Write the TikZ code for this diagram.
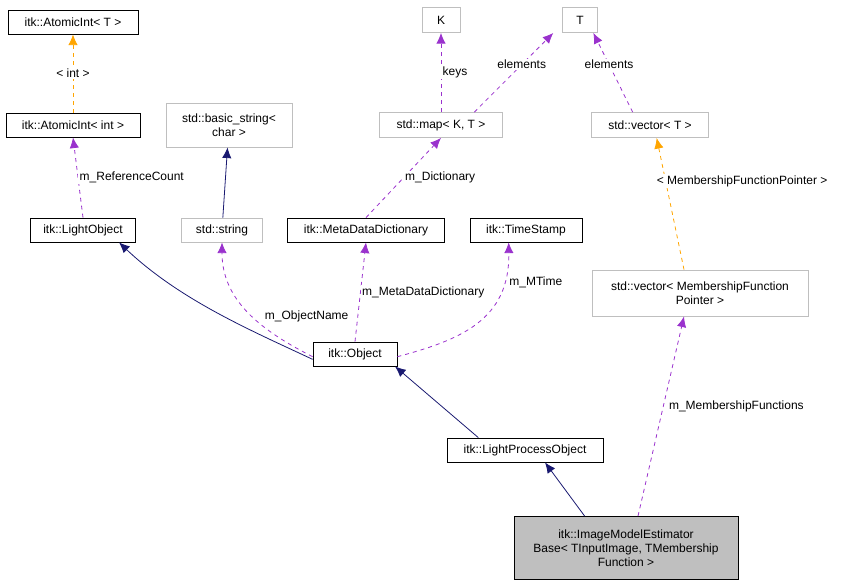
\documentclass[tikz,border=0pt]{standalone}
\usepackage{fontspec}
\setmainfont{Liberation Sans}
\usetikzlibrary{arrows.meta}
\begin{document}
\begin{tikzpicture}[x=0.75pt,y=-0.75pt,
 box/.style={draw=black,fill=white,line width=0.6pt,inner sep=0pt,font=\fontsize{9}{10.5}\selectfont,align=center},
 gbox/.style={box,draw=black!25},
 lbl/.style={font=\fontsize{9}{10.5}\selectfont,fill=white,inner sep=1pt},
 inh/.style={draw={rgb,255:red,25;green,25;blue,112},line width=0.6pt,-{Latex[length=8pt,width=7pt]}},
 use/.style={draw={rgb,255:red,154;green,50;blue,205},dashed,line width=0.6pt,-{Latex[length=8pt,width=7pt]}},
 tpl/.style={draw={rgb,255:red,255;green,165;blue,0},dashed,line width=0.6pt,-{Latex[length=8pt,width=7pt]}}]
\useasboundingbox (0,0) rectangle (865,587);
\node[box,minimum width=130*0.75pt,minimum height=24*0.75pt] (aT) at (73,22) {itk::AtomicInt< T >};
\node[box,minimum width=134*0.75pt,minimum height=24*0.75pt] (aI) at (73,125) {itk::AtomicInt< int >};
\node[box,minimum width=105*0.75pt,minimum height=24*0.75pt] (lo) at (83,230) {itk::LightObject};
\node[gbox,minimum width=126*0.75pt,minimum height=44*0.75pt] (bs) at (229,125) {std::basic\_string<\\char >};
\node[gbox,minimum width=81*0.75pt,minimum height=24*0.75pt] (ss) at (222,230) {std::string};
\node[box,minimum width=157*0.75pt,minimum height=24*0.75pt] (md) at (366,230) {itk::MetaDataDictionary};
\node[box,minimum width=112*0.75pt,minimum height=24*0.75pt] (ts) at (526,230) {itk::TimeStamp};
\node[gbox,minimum width=38*0.75pt,minimum height=25*0.75pt] (K) at (441,20) {K};
\node[gbox,minimum width=35*0.75pt,minimum height=25*0.75pt] (T) at (580,20) {T};
\node[gbox,minimum width=123*0.75pt,minimum height=25*0.75pt] (map) at (441,125) {std::map< K, T >};
\node[gbox,minimum width=117*0.75pt,minimum height=25*0.75pt] (vT) at (650,125) {std::vector< T >};
\node[gbox,minimum width=216*0.75pt,minimum height=46*0.75pt] (vM) at (700,293) {std::vector< MembershipFunction\\Pointer >};
\node[box,minimum width=84*0.75pt,minimum height=24*0.75pt] (ob) at (355,354) {itk::Object};
\node[box,minimum width=156*0.75pt,minimum height=24*0.75pt] (lp) at (525,450) {itk::LightProcessObject};
\node[box,fill={rgb,255:red,191;green,191;blue,191},minimum width=224*0.75pt,minimum height=63*0.75pt] (im) at (626,548) {itk::ImageModelEstimator\\Base< TInputImage, TMembership\\Function >};

\draw[tpl] (aI) -- node[lbl]{< int >} (aT);
\draw[use] (lo.north) -- node[lbl,right,pos=0.5]{m\_ReferenceCount} (aI.south);
\draw[inh] (ss) -- (bs);
\draw[use] (md.north) -- node[lbl,right]{m\_Dictionary} (map.south);
\draw[use] (map.north) -- node[lbl,right]{keys} (K.south);
\draw[use] ([xshift=25]map.north) -- node[lbl,pos=0.6]{elements} ([xshift=-20]T.south);
\draw[use] ([xshift=-13]vT.north) -- node[lbl,pos=0.6]{elements} ([xshift=10]T.south);
\draw[tpl] ([xshift=-12]vM.north) -- node[lbl,right,pos=0.67,xshift=-8]{< MembershipFunctionPointer >} ([xshift=5]vT.south);
\draw[inh] ([yshift=-4]ob.west) .. controls (250,330) and (180,300) .. ([xshift=27]lo.south);
\draw[use] ([yshift=-2]ob.west) .. controls (260,330) and (222,300) .. node[lbl,pos=0.45,right,xshift=8]{m\_ObjectName} (ss.south);
\draw[use] (ob.north) -- node[lbl,right,pos=0.5]{m\_MetaDataDictionary} (md.south);
\draw[use] ([yshift=-2]ob.east) .. controls (460,340) and (510,320) .. node[lbl,pos=0.8,right,xshift=3]{m\_MTime} ([xshift=-13]ts.south);
\draw[inh] ([xshift=-35]lp.north) -- ([xshift=30]ob.south);
\draw[inh] ([xshift=-31]im.north) -- ([xshift=15]lp.south);
\draw[use] ([xshift=9]im.north) -- node[lbl,pos=0.55,right,xshift=3]{m\_MembershipFunctions} ([xshift=-12]vM.south);
\end{tikzpicture}
\end{document}
